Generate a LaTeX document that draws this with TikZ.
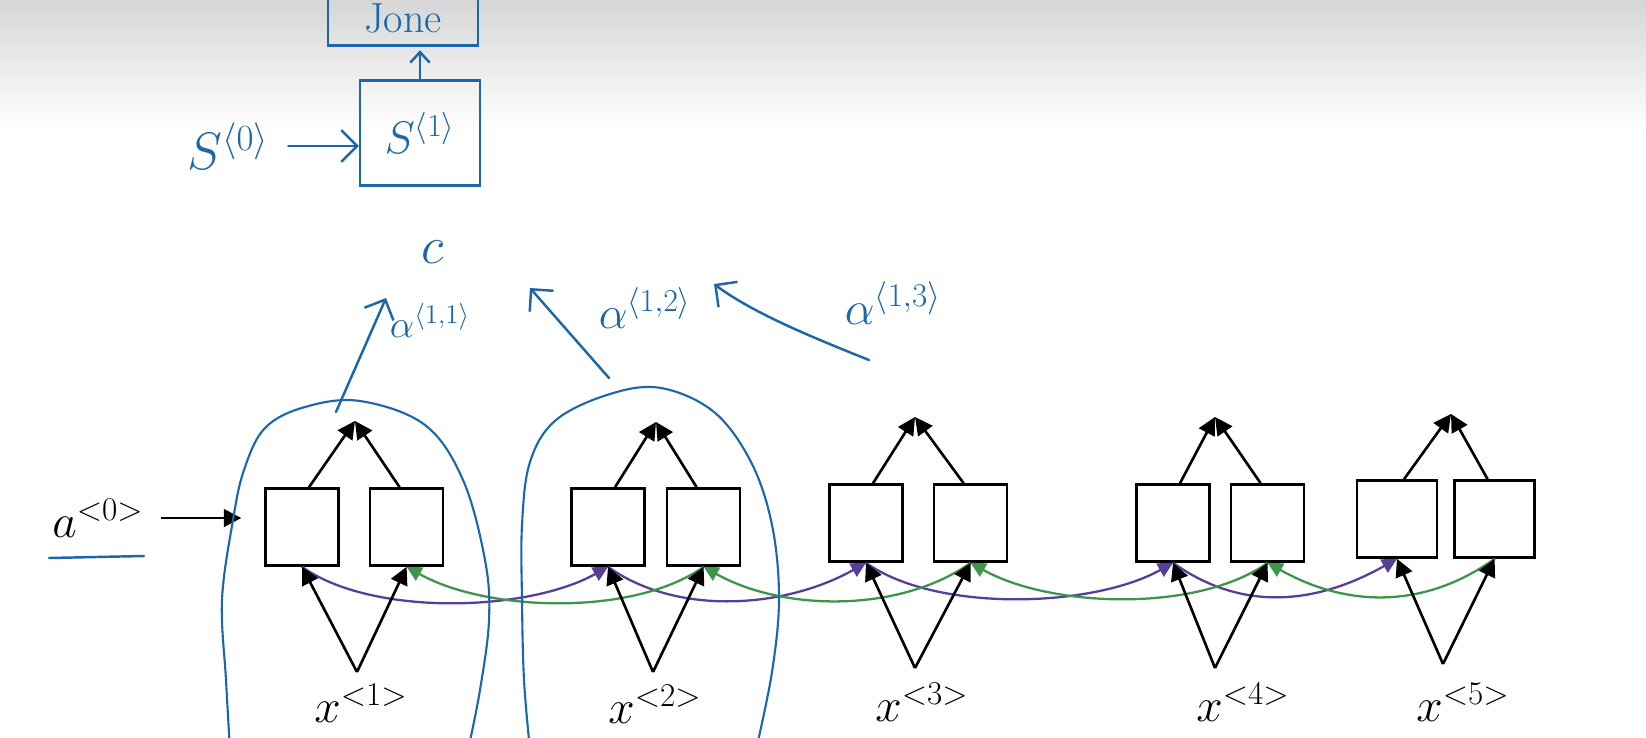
\RequirePackage{fix-cm}
\documentclass[tikz,border=0pt]{standalone}
\usepackage{amsmath}
\usepackage{tikz}
\usetikzlibrary{arrows.meta, positioning, calc}
\definecolor{inkblue}{RGB}{28,102,170}
\definecolor{fwdpurple}{RGB}{88,62,150}
\definecolor{bwdgreen}{RGB}{62,148,72}
\definecolor{topgray}{RGB}{214,214,214}

\begin{document}
\begin{tikzpicture}[
    x=0.02cm, y=-0.02cm,
    cell/.style={rectangle, draw=black, line width=1.5pt, fill=white,
                 minimum width=1.46cm, minimum height=1.54cm, inner sep=0pt},
    lbl/.style={font=\fontsize{27}{32}\selectfont, inner sep=0pt},
    hand/.style={text=inkblue, inner sep=1pt},
    handbox/.style={rectangle, draw=inkblue, line width=1.4pt, text=inkblue},
    ink/.style={draw=inkblue, line width=1.2pt, line cap=round},
    inkarr/.style={ink, line width=1.4pt, -{Straight Barb[length=9pt,width=18pt]}},
    arr/.style={-{Triangle[length=10pt,width=10pt]}, line width=1.5pt},
    fwdarr/.style={-{Triangle[length=8.5pt,width=8.5pt]}, fwdpurple, line width=1.3pt},
    bwdarr/.style={-{Triangle[length=8.5pt,width=8.5pt]}, bwdgreen, line width=1.3pt}
  ]

    \useasboundingbox (0,0) rectangle (1646,737);
    \clip (0,0) rectangle (1646,737);
    \fill[white] (0,0) rectangle (1646,737);
    \shade[top color=topgray, bottom color=white] (0,0) rectangle (1646,132);

    % decoder (hand drawn)
    \node[handbox, minimum width=3cm, minimum height=1.1cm,
          font=\fontsize{24}{28}\selectfont] (jone) at (403,18) {Jone};
    \node[handbox, minimum width=2.4cm, minimum height=2.1cm,
          font=\fontsize{26}{30}\selectfont] (s1) at (420,133) {$S^{\langle 1\rangle}$};
    \node[hand, font=\fontsize{30}{34}\selectfont] (s0) at (228,146) {$S^{\langle 0\rangle}$};
    \node[hand, font=\fontsize{30}{34}\selectfont] (ctx) at (433,252) {$c$};
    \node[hand, font=\fontsize{22}{26}\selectfont] (al11) at (430,320) {$\alpha^{\langle 1,1\rangle}$};
    \node[hand, font=\fontsize{26}{30}\selectfont] (al12) at (645,308) {$\alpha^{\langle 1,2\rangle}$};
    \node[hand, font=\fontsize{27}{31}\selectfont] (al13) at (893,303) {$\alpha^{\langle 1,3\rangle}$};

    \coordinate (att1s) at (336,412);
    \coordinate (att1e) at (386,298);
    \coordinate (att2s) at (609,378);
    \coordinate (att2e) at (530,288);
    \coordinate (att3s) at (869,360);
    \coordinate (att3e) at (714,284);

    \draw[inkarr, shorten <=10pt] (s0.east) -- (s1.west |- s0.east);
    \draw[ink, line width=1.4pt, -{Straight Barb[length=6pt,width=11pt]}, shorten >=2pt]
      (s1.north) -- (s1.north |- jone.south);
    \draw[inkarr] (att1s) -- (att1e);
    \draw[inkarr] (att2s) -- (att2e);
    \draw[inkarr] (att3s) .. controls +(-50,-20) and +(40,30) .. (att3e);

    % encoder cells
    \node[cell] (fwd1) at (302,527) {};
    \node[cell, right=0.58cm of fwd1] (bwd1) {};
    \node[cell] (fwd2) at (608,527) {};
    \node[cell, right=0.4cm of fwd2] (bwd2) {};
    \node[cell] (fwd3) at (866,523) {};
    \node[cell, right=0.58cm of fwd3] (bwd3) {};
    \node[cell] (fwd4) at (1173,523) {};
    \node[cell, right=0.38cm of fwd4] (bwd4) {};
    \node[cell, minimum width=1.6cm] (fwd5) at (1397,519) {};
    \node[cell, minimum width=1.6cm, right=0.3cm of fwd5] (bwd5) {};

    \coordinate (out1) at (355,421);
    \coordinate (out2) at (656,422);
    \coordinate (out3) at (915,417);
    \coordinate (out4) at (1215,417);
    \coordinate (out5) at (1451,414);
    \coordinate (in1) at (357,672);
    \coordinate (in2) at (653,672);
    \coordinate (in3) at (915,668);
    \coordinate (in4) at (1215,668);
    \coordinate (in5) at (1443,664);

    \node[lbl] (x1) at (361,703) {$x^{<1>}$};
    \node[lbl] (x2) at (655,704) {$x^{<2>}$};
    \node[lbl] (x3) at (922,702) {$x^{<3>}$};
    \node[lbl] (x4) at (1243,702) {$x^{<4>}$};
    \node[lbl] (x5) at (1463,702) {$x^{<5>}$};
    \node[lbl] (a0) at (98,518) {$a^{<0>}$};

    % forward and backward recurrences
    \draw[fwdarr] (fwd1.south) .. controls +(70,50) and +(-80,45) .. (fwd2.south);
    \draw[fwdarr] (fwd2.south) .. controls +(70,50) and +(-80,45) .. (fwd3.south);
    \draw[fwdarr] (fwd3.south) .. controls +(70,50) and +(-80,45) .. (fwd4.south);
    \draw[fwdarr] (fwd4.south) .. controls +(70,50) and +(-80,45) .. (fwd5.south);
    \draw[bwdarr] (bwd2.south) .. controls +(-70,50) and +(80,45) .. (bwd1.south);
    \draw[bwdarr] (bwd3.south) .. controls +(-70,50) and +(80,45) .. (bwd2.south);
    \draw[bwdarr] (bwd4.south) .. controls +(-70,50) and +(80,45) .. (bwd3.south);
    \draw[bwdarr] (bwd5.south) .. controls +(-70,50) and +(80,45) .. (bwd4.south);

    \draw[arr] (fwd1.80) -- (out1);
    \draw[arr] (bwd1.100) -- (out1);
    \draw[arr] (fwd2.80) -- (out2);
    \draw[arr] (bwd2.100) -- (out2);
    \draw[arr] (fwd3.80) -- (out3);
    \draw[arr] (bwd3.100) -- (out3);
    \draw[arr] (fwd4.80) -- (out4);
    \draw[arr] (bwd4.100) -- (out4);
    \draw[arr] (fwd5.80) -- (out5);
    \draw[arr] (bwd5.100) -- (out5);

    \draw[arr] (in1) -- (fwd1.south);
    \draw[arr] (in1) -- (bwd1.south);
    \draw[arr] (in2) -- (fwd2.south);
    \draw[arr] (in2) -- (bwd2.south);
    \draw[arr] (in3) -- (fwd3.south);
    \draw[arr] (in3) -- (bwd3.south);
    \draw[arr] (in4) -- (fwd4.south);
    \draw[arr] (in4) -- (bwd4.south);
    \draw[arr] (in5) -- (fwd5.south);
    \draw[arr] (in5) -- (bwd5.south);

    \draw[arr, shorten <=10pt, shorten >=13pt] (a0.east) -- (fwd1.west |- a0.east);
    \draw[ink, line width=1.4pt] (49,558) -- (144,556);

    % hand drawn loops
    \draw[ink] plot[smooth, tension=0.6] coordinates {(230,750) (226,680) (222,600)
      (233,520) (244,470) (265,428) (305,407) (360,401) (425,425) (463,480)
      (485,560) (489,620) (480,690) (468,750)};
    \draw[ink] plot[smooth, tension=0.6] coordinates {(530,750) (524,680) (522,600)
      (522,525) (530,462) (556,420) (610,394) (661,388) (714,412) (751,462)
      (772,525) (779,598) (772,672) (756,750)};

  \end{tikzpicture}
\end{document}
